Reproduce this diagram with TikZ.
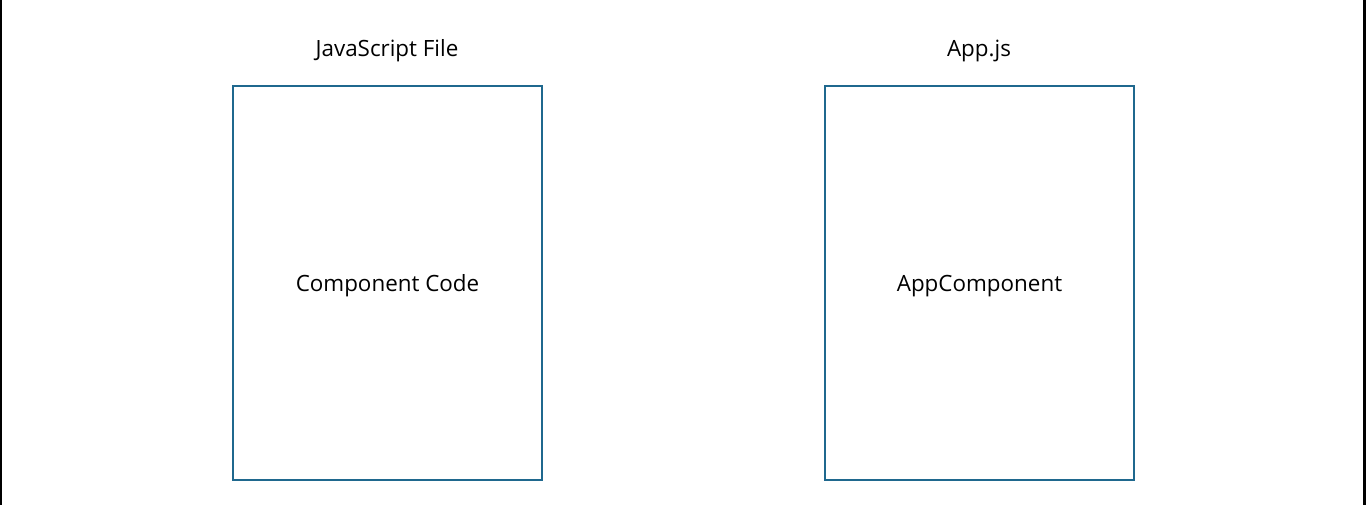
\documentclass[tikz,border=0pt]{standalone}
\usepackage{fontspec}
\setmainfont{Open Sans}
\definecolor{boxblue}{RGB}{31,104,142}
\tikzset{
  filebox/.style={draw=boxblue, line width=1.5pt, minimum width=231.75pt, minimum height=295.5pt, inner sep=0pt},
  label/.style={font=\fontsize{16.8}{20}\selectfont, inner sep=0pt, anchor=base}
}
\begin{document}
\begin{tikzpicture}[x=0.75pt, y=-0.75pt]
\useasboundingbox (0,0) rectangle (1366,505);
\fill[black] (0,0) rectangle (2,505);
\fill[black] (1363,0) rectangle (1366,505);
\node[filebox] (jsbox) at (387.5,283){};
\node[label] (jstitle) at (387,57){JavaScript File};
\node[label] (jscode) at (387.5,292){Component Code};
\node[filebox] (appbox) at (979.5,283){};
\node[label] (apptitle) at (979,57){App.js};
\node[label] (appcode) at (979.5,292){AppComponent};
\end{tikzpicture}
\end{document}
